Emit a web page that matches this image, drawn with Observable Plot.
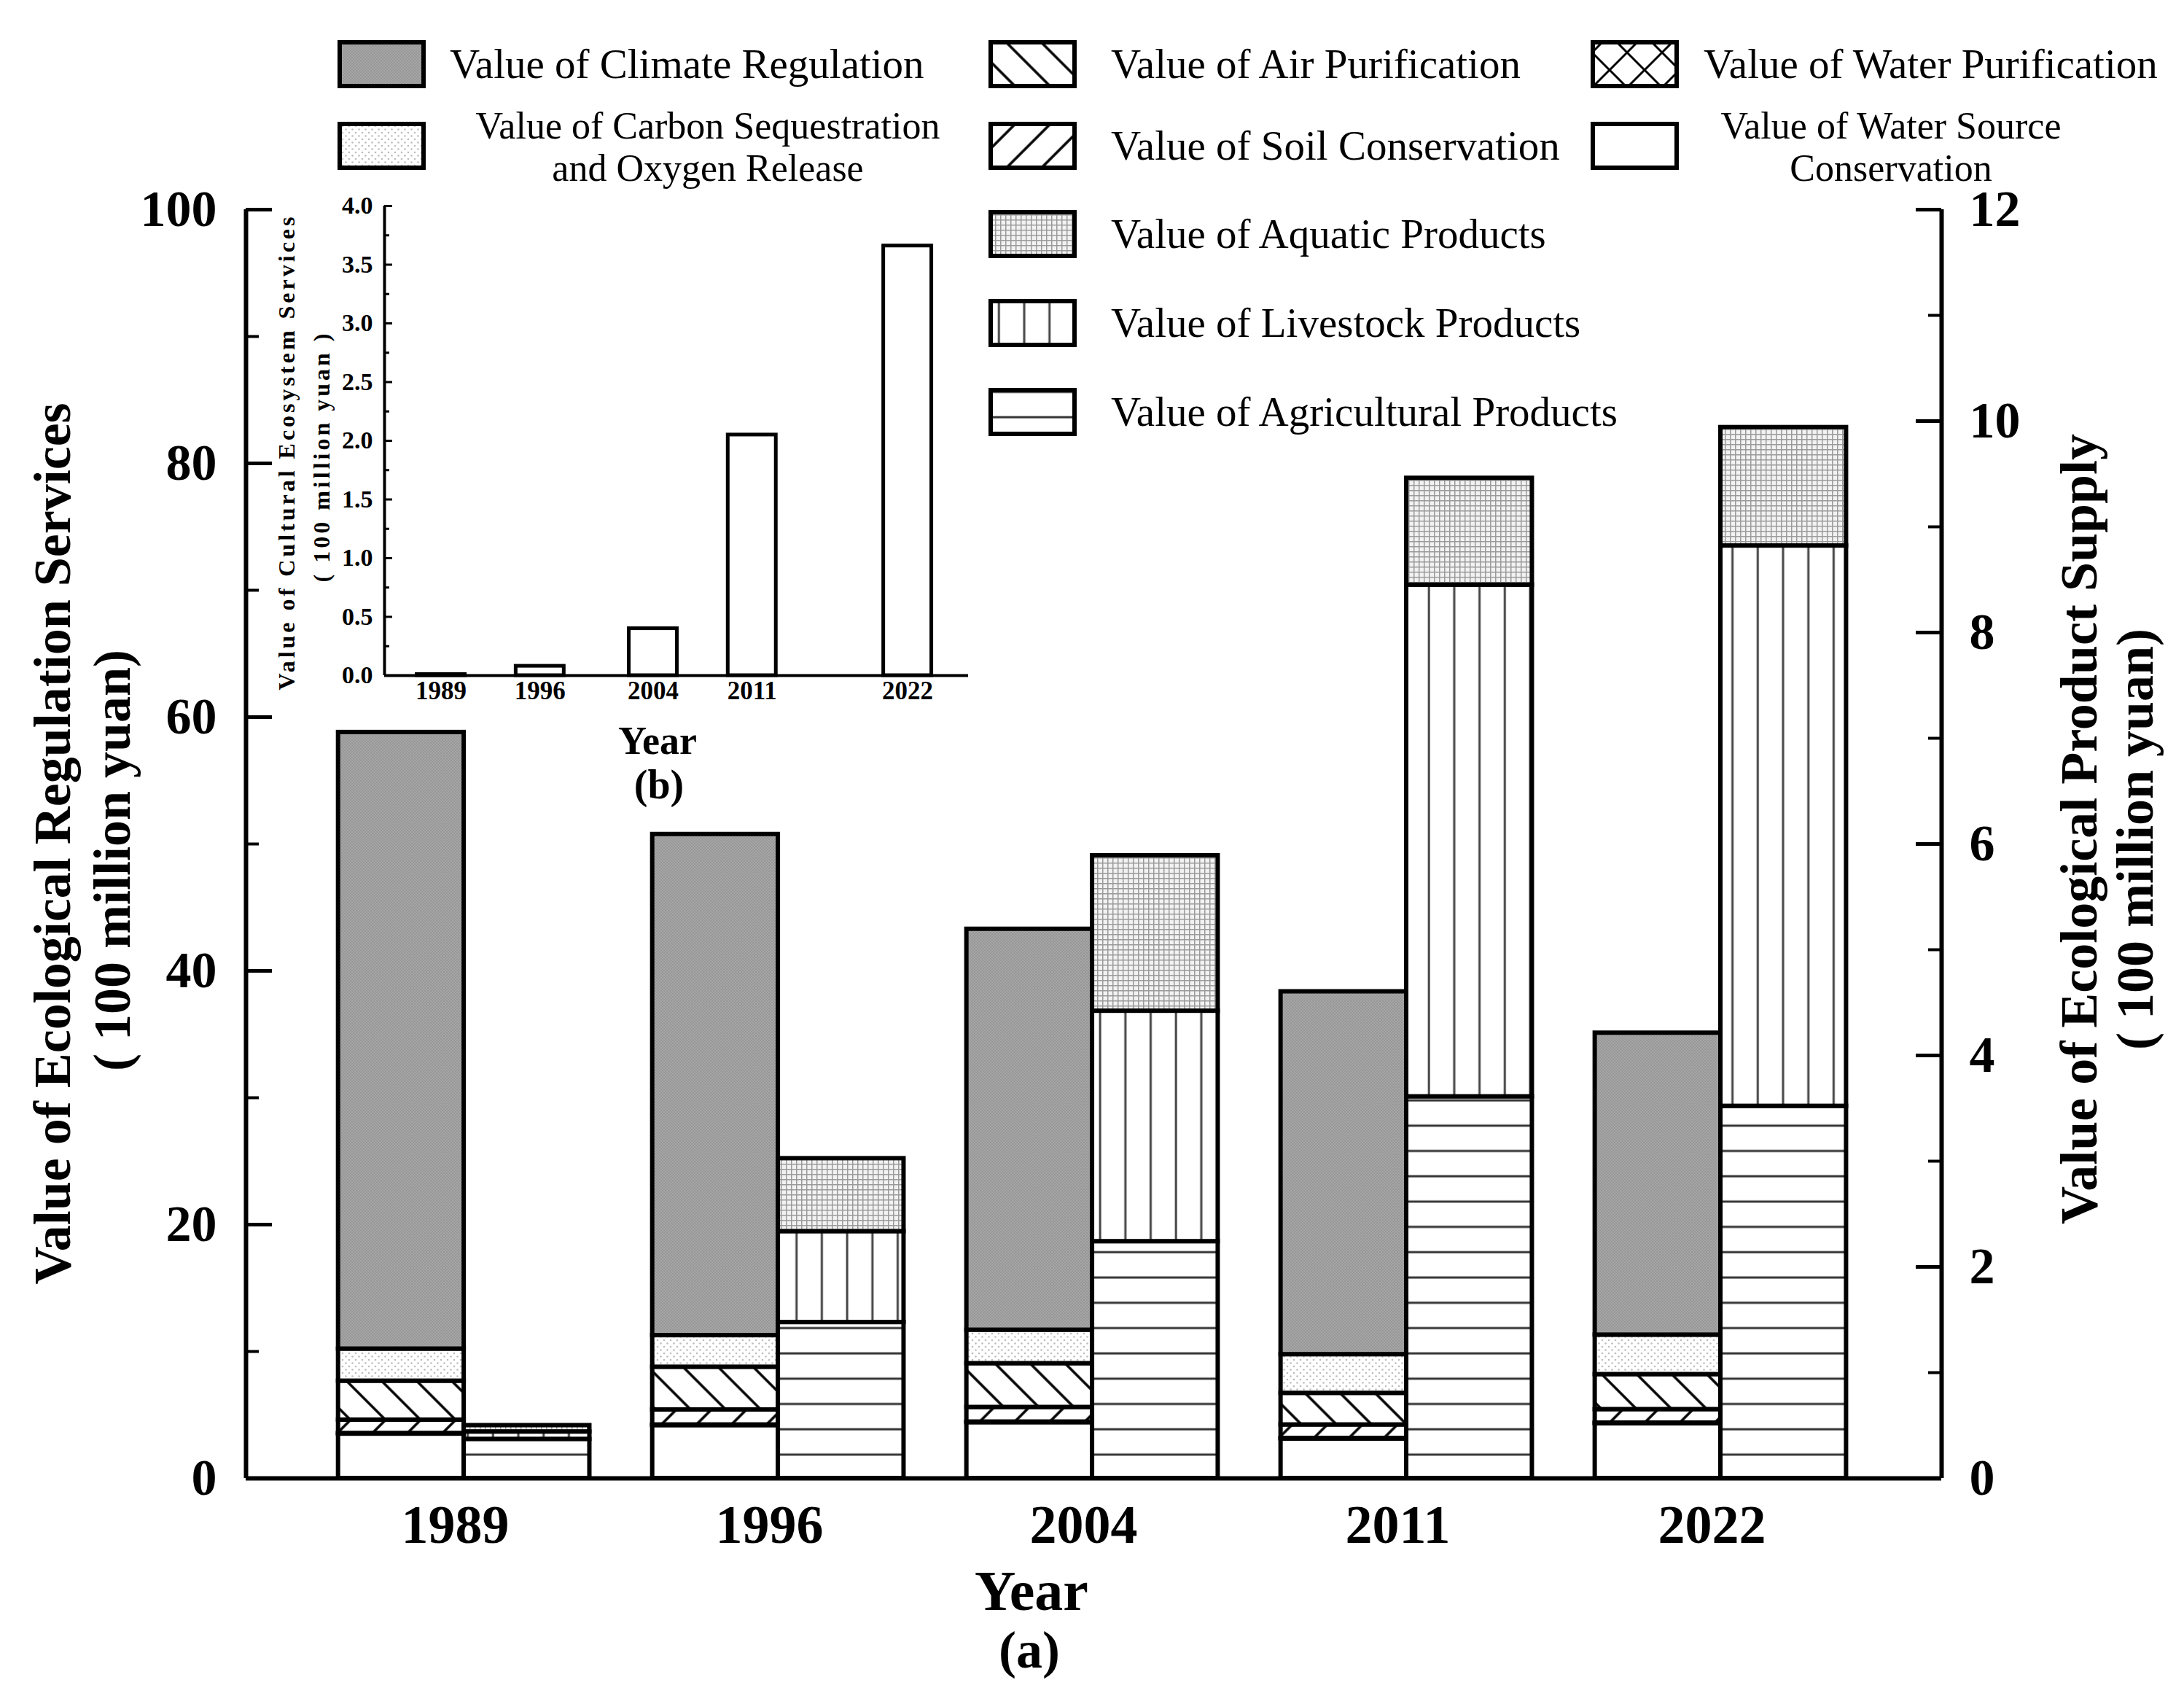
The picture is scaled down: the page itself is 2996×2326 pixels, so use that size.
<!DOCTYPE html>
<html>
<head>
<meta charset="utf-8">
<script src="https://cdn.jsdelivr.net/npm/d3@7"></script>
<script src="https://cdn.jsdelivr.net/npm/@observablehq/plot@0.6"></script>
<style>
  html, body { margin: 0; padding: 0; background: #fff; }
  #wrap { position: relative; width: 2996px; height: 2326px; overflow: hidden; background: #fff; }
  #wrap > svg { position: absolute; left: 0; top: 0; }
</style>
</head>
<body>
<svg width="0" height="0" style="position:absolute">
  <defs>
    <pattern id="p-climate" width="4" height="4" patternUnits="userSpaceOnUse">
      <rect width="4" height="4" fill="#a6a6a6"/>
      <rect width="2" height="2" fill="#979797"/>
      <rect x="2" y="2" width="2" height="2" fill="#979797"/>
    </pattern>
    <pattern id="p-carbon" width="9" height="9" patternUnits="userSpaceOnUse">
      <rect width="9" height="9" fill="#ffffff"/>
      <circle cx="2" cy="2" r="1.3" fill="#bdbdbd"/>
      <circle cx="6.5" cy="6.5" r="1.3" fill="#bdbdbd"/>
    </pattern>
    <pattern id="p-air" width="34" height="34" patternUnits="userSpaceOnUse" patternTransform="rotate(-45)">
      <rect width="34" height="34" fill="#ffffff"/>
      <line x1="17" y1="0" x2="17" y2="34" stroke="#000" stroke-width="3.5"/>
    </pattern>
    <pattern id="p-soil" width="34" height="34" patternUnits="userSpaceOnUse" patternTransform="rotate(45)">
      <rect width="34" height="34" fill="#ffffff"/>
      <line x1="17" y1="0" x2="17" y2="34" stroke="#000" stroke-width="3.5"/>
    </pattern>
    <pattern id="p-wp" width="48" height="48" patternUnits="userSpaceOnUse">
      <rect width="48" height="48" fill="#ffffff"/>
      <path d="M0,0L48,48M48,0L0,48" stroke="#000" stroke-width="3"/>
    </pattern>
    <pattern id="p-ws" width="10" height="10" patternUnits="userSpaceOnUse">
      <rect width="10" height="10" fill="#ffffff"/>
    </pattern>
    <pattern id="p-aqua" width="7" height="7" patternUnits="userSpaceOnUse">
      <rect width="7" height="7" fill="#f2f2f2"/>
      <path d="M0,0.75H7M0.75,0V7" stroke="#9a9a9a" stroke-width="1.5"/>
    </pattern>
    <pattern id="p-live" width="34.7" height="20" patternUnits="userSpaceOnUse">
      <rect width="34.7" height="20" fill="#ffffff"/>
      <line x1="17" y1="0" x2="17" y2="20" stroke="#444" stroke-width="3"/>
    </pattern>
    <pattern id="p-agri" width="20" height="34.7" patternUnits="userSpaceOnUse">
      <rect width="20" height="34.7" fill="#ffffff"/>
      <line x1="0" y1="17" x2="20" y2="17" stroke="#333" stroke-width="3"/>
    </pattern>
  </defs>
</svg>
<div id="wrap"></div>
<script>
// ---------------- data ----------------
const years = [1989, 1996, 2004, 2011, 2022];

// Ecological regulation services (left axis, 100 million yuan), stacked bottom -> top
const waterSourceConservation = [3.50, 4.17, 4.40, 3.11, 4.32];
const waterPurification       = [0.05, 0.05, 0.05, 0.05, 0.05];
const soilConservation        = [1.05, 1.18, 1.15, 1.06, 1.06];
const airPurification         = [3.07, 3.37, 3.45, 2.49, 2.76];
const carbonSequestration     = [2.53, 2.49, 2.64, 3.05, 3.11];
const climateRegulation       = [48.6, 39.5, 31.6, 28.6, 23.8];

// Ecological product supply (right axis, 100 million yuan), stacked bottom -> top
const agriculturalProducts = [0.37, 1.475, 2.24, 3.61, 3.52];
const livestockProducts    = [0.07, 0.86, 2.18, 4.84, 5.30];
const aquaticProducts      = [0.06, 0.69, 1.47, 1.01, 1.12];

// Inset (b): cultural ecosystem services
const culturalServices = [0.01, 0.08, 0.40, 2.05, 3.66];

const leftTicks = [0, 20, 40, 60, 80, 100];
const rightTicks = [0, 2, 4, 6, 8, 10, 12];
const insetTicks = [0, 0.5, 1, 1.5, 2, 2.5, 3, 3.5, 4];

// ---------------- build tables ----------------
const regulationSeries = [
  ["ws", waterSourceConservation], ["wp", waterPurification], ["soil", soilConservation],
  ["air", airPurification], ["carbon", carbonSequestration], ["climate", climateRegulation]
];
const supplySeries = [["agri", agriculturalProducts], ["live", livestockProducts], ["aqua", aquaticProducts]];
const k = 100 / 12; // right axis (0-12) mapped onto left axis (0-100)
const table = [];
years.forEach((yr, i) => {
  let acc = 0;
  for (const [key, vals] of regulationSeries) {
    table.push({key, i, side: "L", y1: acc, y2: acc + vals[i]});
    acc += vals[i];
  }
  acc = 0;
  for (const [key, vals] of supplySeries) {
    table.push({key, i, side: "R", y1: acc * k, y2: (acc + vals[i]) * k});
    acc += vals[i];
  }
});
const keys = [...regulationSeries, ...supplySeries].map(d => d[0]);
const insetData = years.map((year, i) => ({year, value: culturalServices[i]}));

const FONT = "'Liberation Serif', 'Times New Roman', serif";
const W = 2996, H = 2326;
const mL = 337, mR = 333, mT = 287, mB = 299;
const plotW = W - mL - mR;
const xDomain = [-0.694, 4.703];
const half = 0.4;

const main = Plot.plot({
  width: W, height: H,
  marginLeft: mL, marginRight: mR, marginTop: mT, marginBottom: mB,
  style: {background: "transparent", fontFamily: FONT, position: "absolute", left: "0px", top: "0px", maxWidth: "none"},
  x: {domain: xDomain, axis: null},
  y: {domain: [0, 100], axis: null},
  color: {domain: keys, range: keys.map(key => `url(#p-${key})`)},
  marks: [
    Plot.rect(table, {
      x1: d => d.side === "L" ? d.i - half : d.i,
      x2: d => d.side === "L" ? d.i : d.i + half,
      y1: "y1", y2: "y2", fill: "key", stroke: "black", strokeWidth: 6
    }),
    Plot.ruleX(xDomain, {stroke: "black", strokeWidth: 6}),
    Plot.ruleY([0], {stroke: "black", strokeWidth: 6}),
    // left ticks (inward)
    Plot.tickY(leftTicks, {y: d => d, insetRight: plotW - 36, strokeWidth: 5}),
    Plot.tickY(leftTicks.slice(0, -1), {y: d => d + 10, insetRight: plotW - 18, strokeWidth: 4}),
    // right ticks (inward)
    Plot.tickY(rightTicks, {y: d => d * k, insetLeft: plotW - 35, strokeWidth: 5}),
    Plot.tickY(rightTicks.slice(0, -1), {y: d => (d + 1) * k, insetLeft: plotW - 18, strokeWidth: 4}),
    Plot.axisY(leftTicks, {anchor: "left", tickSize: 0, tickPadding: 40, fontSize: 70, fontWeight: "bold", label: null}),
    Plot.axisY(rightTicks.map(d => d * k), {anchor: "right", tickSize: 0, tickPadding: 38, fontSize: 70, fontWeight: "bold", label: null,
      tickFormat: d => String(Math.round(d / k))}),
    Plot.axisX(d3.range(years.length), {anchor: "bottom", tickSize: 0, tickPadding: 36, fontSize: 74, fontWeight: "bold", label: null,
      dx: -12, tickFormat: i => String(years[i])})
  ]
});

const iL = 527, iR = 12, iT = 282, iB = 74, iW = 1340, iH = 1000;
const insetPlotW = iW - iL - iR;
const insetX = [1985, 2026.3];
const inset = Plot.plot({
  width: iW, height: iH,
  marginLeft: iL, marginRight: iR, marginTop: iT, marginBottom: iB,
  style: {background: "transparent", fontFamily: FONT, position: "absolute", left: "0px", top: "0px", maxWidth: "none"},
  x: {domain: insetX, axis: null},
  y: {domain: [0, 4], axis: null},
  marks: [
    Plot.rect(insetData, {x1: d => d.year - 1.7, x2: d => d.year + 1.7, y1: () => 0, y2: "value",
      fill: "white", stroke: "black", strokeWidth: 5}),
    Plot.ruleX([insetX[0]], {stroke: "black", strokeWidth: 4}),
    Plot.ruleY([0], {stroke: "black", strokeWidth: 4}),
    Plot.tickY(insetTicks, {y: d => d, insetRight: insetPlotW - 11, strokeWidth: 3}),
    Plot.tickY(insetTicks.slice(0, -1), {y: d => d + 0.25, insetRight: insetPlotW - 7, strokeWidth: 3}),
    Plot.axisY(insetTicks, {anchor: "left", tickSize: 0, tickPadding: 16, fontSize: 34, fontWeight: "bold", label: null,
      tickFormat: d3.format(".1f")}),
    Plot.axisX(years, {anchor: "bottom", tickSize: 0, tickPadding: 8, fontSize: 35, fontWeight: "bold", label: null,
      tickFormat: d => String(d)})
  ]
});

// ---------------- legend & titles (overlay) ----------------
const legend = [
  {key: "climate", sx: 466, cy: 88,  tx: 617,  lines: ["Value of Climate Regulation"]},
  {key: "carbon",  sx: 466, cy: 200, tx: 971,  lines: ["Value of Carbon Sequestration", "and Oxygen Release"]},
  {key: "air",     sx: 1359, cy: 88,  tx: 1524, lines: ["Value of Air Purification"]},
  {key: "soil",    sx: 1359, cy: 200, tx: 1524, lines: ["Value of Soil Conservation"]},
  {key: "aqua",    sx: 1359, cy: 321, tx: 1524, lines: ["Value of Aquatic Products"]},
  {key: "live",    sx: 1359, cy: 443, tx: 1524, lines: ["Value of Livestock Products"]},
  {key: "agri",    sx: 1359, cy: 565, tx: 1524, lines: ["Value of Agricultural Products"]},
  {key: "wp",      sx: 2185, cy: 88,  tx: 2337, lines: ["Value of Water Purification"]},
  {key: "ws",      sx: 2185, cy: 200, tx: 2594, lines: ["Value of Water Source", "Conservation"]}
];

const ov = d3.create("svg").attr("width", W).attr("height", H)
  .attr("font-family", FONT).style("position", "absolute").style("left", "0px").style("top", "0px");

for (const e of legend) {
  ov.append("rect").attr("x", e.sx).attr("y", e.cy - 30).attr("width", 115).attr("height", 60)
    .attr("fill", `url(#p-${e.key})`).attr("stroke", "black").attr("stroke-width", 6);
  if (e.lines.length === 1) {
    ov.append("text").attr("x", e.tx).attr("y", e.cy + 19).attr("font-size", 57).text(e.lines[0]);
  } else {
    e.lines.forEach((s, j) => ov.append("text").attr("x", e.tx).attr("y", e.cy - 10 + 58 * j)
      .attr("font-size", 52).attr("text-anchor", "middle").text(s));
  }
}

function rotText(x, y, size, txt, spacing) {
  const t = ov.append("text").attr("transform", `translate(${x},${y}) rotate(-90)`)
    .attr("text-anchor", "middle").attr("font-size", size).attr("font-weight", "bold").text(txt);
  if (spacing) t.attr("letter-spacing", spacing);
}
rotText(96, 1157, 72, "Value of Ecological Regulation Services");
rotText(178, 1180, 72, "( 100 million yuan)");
rotText(2876, 1137, 72, "Value of Ecological Product Supply");
rotText(2953, 1151, 72, "( 100 million yuan)");
rotText(404, 620, 32, "Value of Cultural Ecosystem Services", 4);
rotText(452, 626, 32, "( 100 million yuan )", 4);

function plainText(x, y, size, txt) {
  ov.append("text").attr("x", x).attr("y", y).attr("text-anchor", "middle")
    .attr("font-size", size).attr("font-weight", "bold").text(txt);
}
plainText(1415, 2208, 78, "Year");
plainText(1412, 2287, 72, "(a)");
plainText(902, 1034, 54, "Year");
plainText(904, 1095, 56, "(b)");

const wrap = document.getElementById("wrap");
wrap.appendChild(main);
wrap.appendChild(inset);
wrap.appendChild(ov.node());
</script>
</body>
</html>
